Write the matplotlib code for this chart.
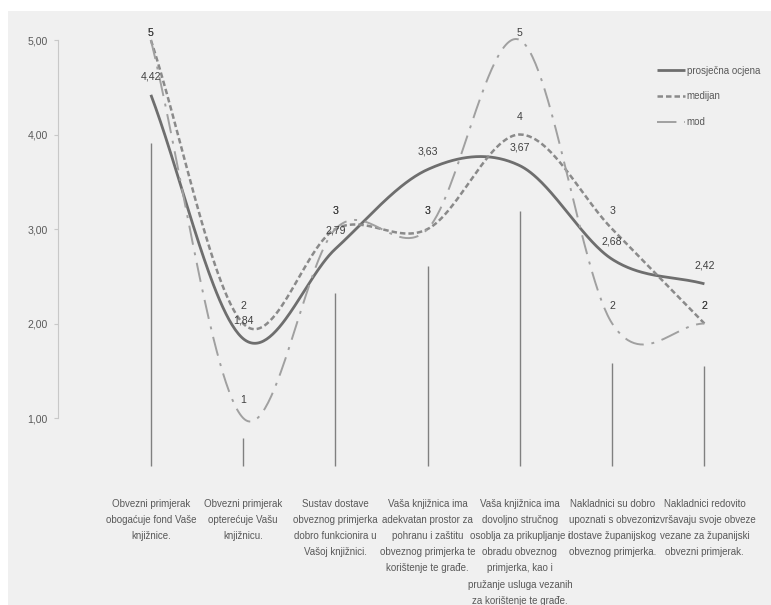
import numpy as np
import matplotlib
matplotlib.use("Agg")
import matplotlib.pyplot as plt
from matplotlib.patches import Rectangle

plt.rcParams['font.family'] = ['Liberation Sans', 'DejaVu Sans']

# data
categories = [
    "Obvezni primjerak\nobogaćuje fond Vaše\nknjižnice.",
    "Obvezni primjerak\nopterećuje Vašu\nknjižnicu.",
    "Sustav dostave\nobveznog primjerka\ndobro funkcionira u\nVašoj knjižnici.",
    "Vaša knjižnica ima\nadekvatan prostor za\npohranu i zaštitu\nobveznog primjerka te\nkorištenje te građe.",
    "Vaša knjižnica ima\ndovoljno stručnog\nosoblja za prikupljanje i\nobradu obveznog\nprimjerka, kao i\npružanje usluga vezanih\nza korištenje te građe.",
    "Nakladnici su dobro\nupoznati s obvezom\ndostave županijskog\nobveznog primjerka.",
    "Nakladnici redovito\nizvršavaju svoje obveze\nvezane za županijski\nobvezni primjerak.",
]
prosjek = [4.42, 1.84, 2.79, 3.63, 3.67, 2.68, 2.42]
medijan = [5, 2, 3, 3, 4, 3, 2]
mod = [5, 1, 3, 3, 5, 2, 2]
drop_tops = [3.91, 0.79, 2.32, 2.61, 3.19, 1.58, 1.55]
y_ticks = [1, 2, 3, 4, 5]


def smooth(vals, n=60):
    # Catmull-Rom style smoothing, like Excel's smoothed line
    p = np.asarray(vals, dtype=float)
    m = np.zeros_like(p)
    m[1:-1] = (p[2:] - p[:-2]) / 2
    m[0] = p[1] - p[0]
    m[-1] = p[-1] - p[-2]
    xs, ys = [], []
    for i in range(len(p) - 1):
        t = np.linspace(0, 1, n)
        h00 = 2 * t**3 - 3 * t**2 + 1
        h10 = t**3 - 2 * t**2 + t
        h01 = -2 * t**3 + 3 * t**2
        h11 = t**3 - t**2
        xs.append(i + t)
        ys.append(h00 * p[i] + h10 * m[i] + h01 * p[i + 1] + h11 * m[i + 1])
    return np.concatenate(xs), np.concatenate(ys)


fig = plt.figure(figsize=(7.71, 6.05), dpi=100, facecolor='white')
fig.patches.append(Rectangle((8 / 771, 0), 1, 1 - 11 / 605, transform=fig.transFigure,
                             facecolor='#f0f0f0', edgecolor='none', zorder=-10))

ax = fig.add_axes([58 / 771, 135 / 605, 711 / 771, 440 / 605])
ax.set_facecolor('none')
ax.set_xlim(-1.007, 6.7)
ax.set_ylim(0.45, 5.106)

x = np.arange(len(categories))
txt = '#595959'

ax.vlines(x, 0.49, drop_tops, color='#808080', lw=1.0)

xs, ys = smooth(prosjek)
ax.plot(xs, ys, color='#6e6e6e', lw=2.0, label='prosječna ocjena', solid_capstyle='butt')
xs, ys = smooth(medijan)
ax.plot(xs, ys, color='#8a8a8a', lw=1.8, linestyle=(0, (2.2, 1.2)), label='medijan')
xs, ys = smooth(mod)
ax.plot(xs, ys, color='#a0a0a0', lw=1.4, linestyle=(0, (10, 4, 1.5, 4)), label='mod')

# value labels sit just above the points, but stay inside the plot area at the top
for i in range(len(x)):
    for vals, lab in [(prosjek, f"{prosjek[i]:.2f}".replace('.', ',')),
                      (medijan, str(medijan[i])), (mod, str(mod[i]))]:
        ax.text(x[i], min(vals[i] + 0.19, 5.075), lab, ha='center', va='center',
                fontsize=7.6, color='#404040')

for s in ['top', 'right', 'bottom']:
    ax.spines[s].set_visible(False)
ax.spines['left'].set_color('#c8c8c8')
ax.spines['left'].set_bounds(1, 5)

ax.set_yticks(y_ticks)
ax.set_yticklabels([f"{v:.2f}".replace('.', ',') for v in y_ticks])
ax.tick_params(axis='y', length=3, color='#c8c8c8', labelsize=7.6, labelcolor=txt, pad=4.5)

ax.set_xticks(x)
ax.set_xticklabels(categories, fontsize=7.0, color=txt, linespacing=1.76, va='top')
ax.tick_params(axis='x', length=0, pad=21)

ax.legend(loc='upper left', bbox_to_anchor=(653 / 771, 1 - 62 / 605), bbox_transform=fig.transFigure,
          frameon=False, fontsize=7, handlelength=2.9, handletextpad=0.15, labelspacing=1.6,
          labelcolor=txt, borderaxespad=0)

fig.savefig('out.png', dpi=100, facecolor=fig.get_facecolor())
